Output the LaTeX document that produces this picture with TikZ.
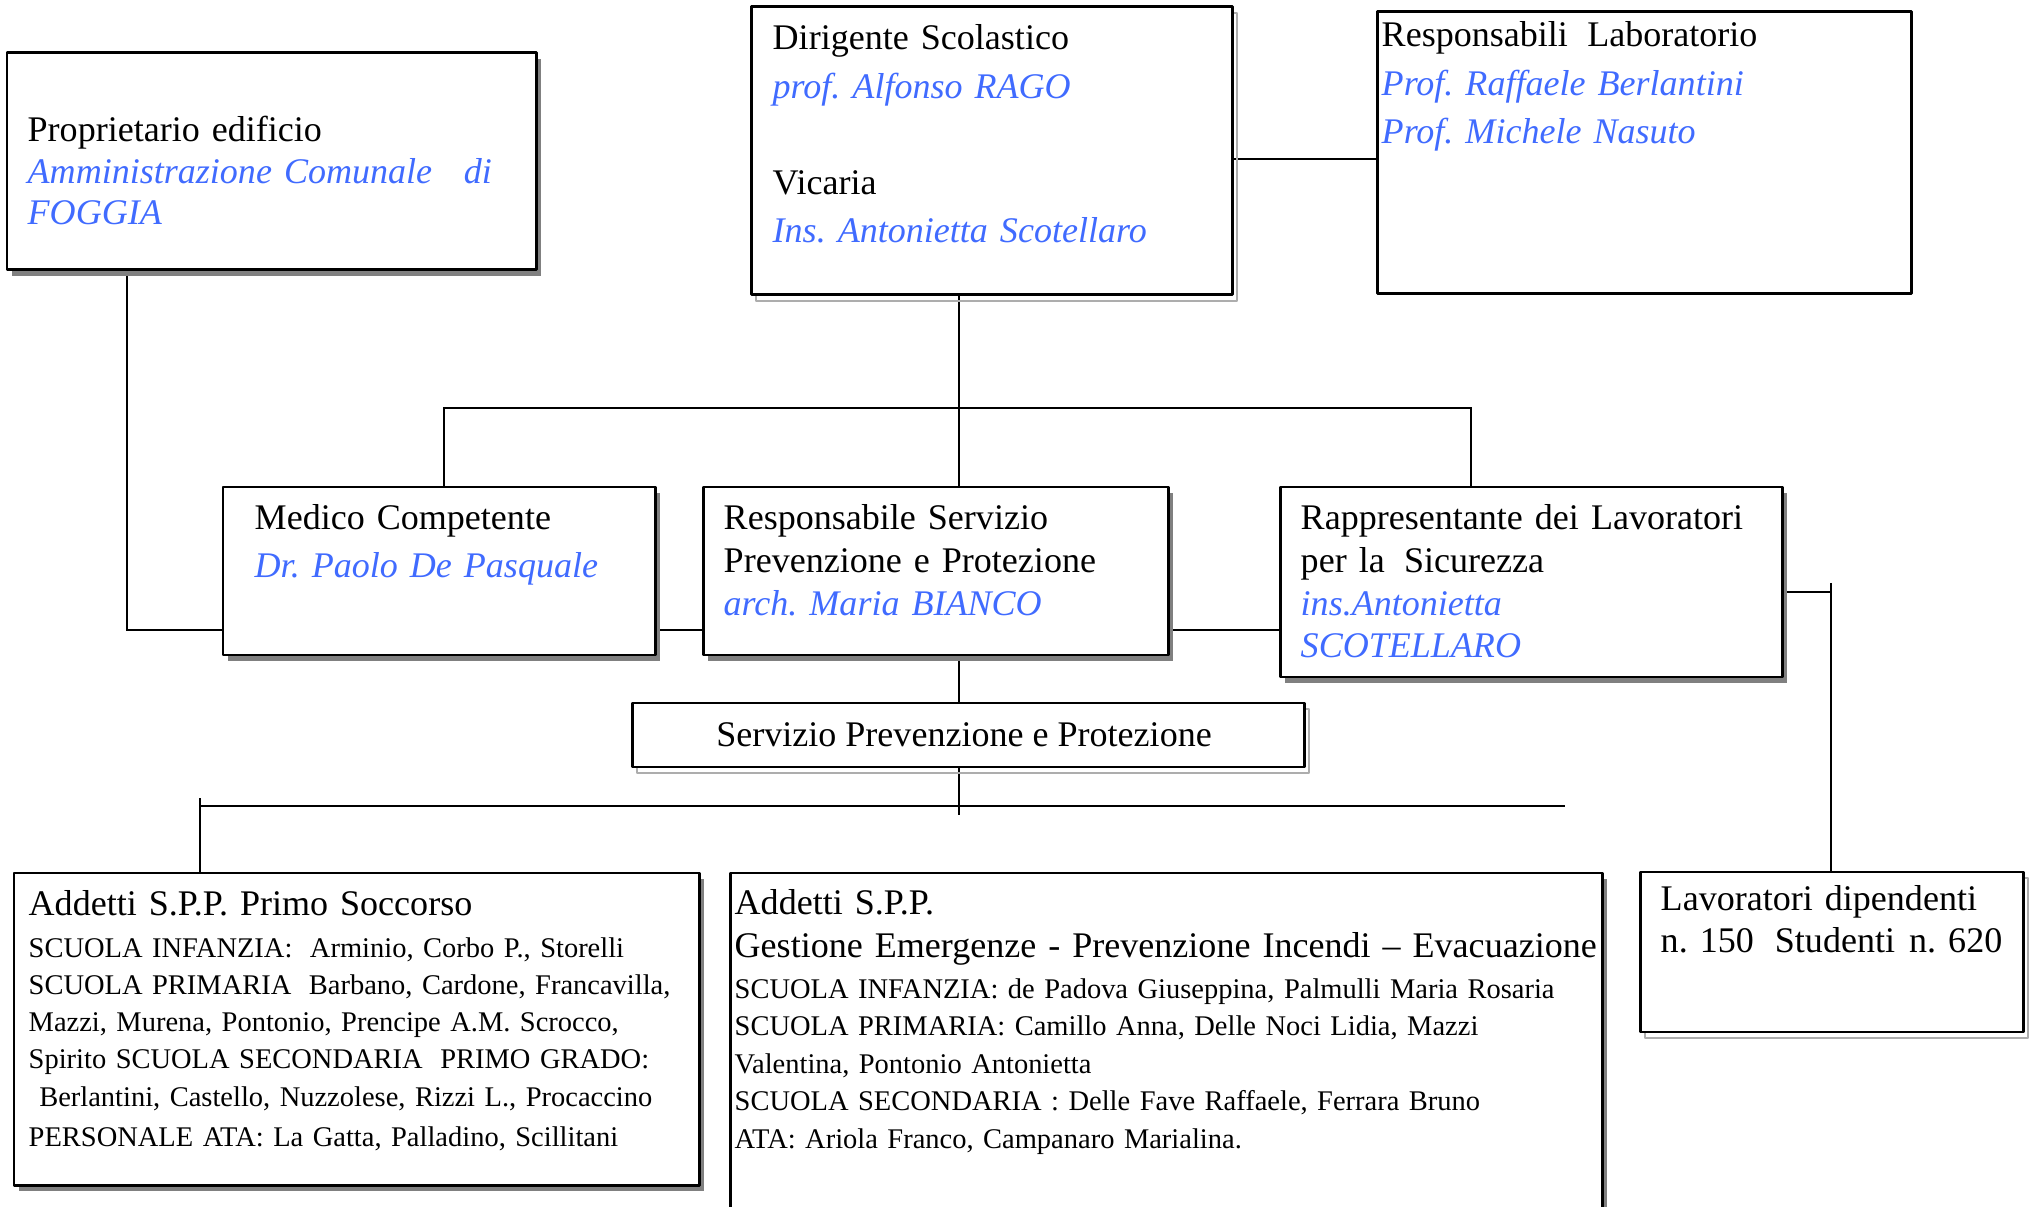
\documentclass[tikz,border=0pt]{standalone}
\usepackage{fontspec}
\setmainfont{Liberation Serif}
\usepackage{tikz}
\usetikzlibrary{fit,shadows,backgrounds}
\definecolor{zzttff}{rgb}{0.25,0.42,1}
\definecolor{sfsfsf}{rgb}{0.5,0.5,0.5}
\definecolor{bfbfbf}{rgb}{0.68,0.68,0.68}
\newcommand{\persona}[1]{{\color{zzttff}\itshape #1}}
\frenchspacing
\tikzset{
  casella/.style={rectangle,draw=black,line width=0.85pt,fill=white,inner sep=0pt},
  ombra/.style={drop shadow={shadow xshift=0.05cm,shadow yshift=-0.06cm,fill=sfsfsf,opacity=1}},
  ombrachiara/.style={drop shadow={shadow xshift=0.05cm,shadow yshift=-0.06cm,fill=none,draw=bfbfbf,line width=0.7pt,opacity=1}},
  testo/.style={anchor=base west,inner sep=0pt,align=left,text width=10cm,font=\fontsize{10.25}{#1}\selectfont},
  testo/.default=12pt,
  elenco/.style={anchor=base west,inner sep=0pt,align=left,text width=10cm,font=\fontsize{8.1}{#1}\selectfont},
  elenco/.default=10.6pt
}
\begin{document}
\begin{tikzpicture}[line cap=round,line join=round,x=0.01cm,y=-0.01cm]
\useasboundingbox (0,0) rectangle (2031,1207);
\clip (0,0) rectangle (2031,1207);
\node[casella,ombra,fit={(7,53) (536,270)}] (prop) {};
\node[testo=11.8pt] (propT) at (27,142) {Proprietario edificio\\ \persona{Amministrazione Comunale\hspace{9pt}di}\\ \persona{FOGGIA}};
\node[casella,ombrachiara,fit={(751,7) (1232,295)}] (dir) {};
\node[testo=13.66pt] (dirT) at (772,50) {Dirigente Scolastico\\ \persona{prof. Alfonso RAGO}\\[13.66pt] Vicaria\\ \persona{Ins. Antonietta Scotellaro}};
\node[casella,fit={(1377,12) (1911,294)}] (lab) {};
\node[testo=13.66pt] (labT) at (1381,47) {Responsabili\hspace{5.5pt}Laboratorio\\ \persona{Prof. Raffaele Berlantini}\\ \persona{Prof. Michele Nasuto}};
\node[casella,ombra,fit={(223,487) (655,655)}] (med) {};
\node[testo=13.4pt] (medT) at (254,530) {Medico Competente\\ \persona{Dr. Paolo De Pasquale}};
\node[casella,ombra,fit={(703,487) (1168,655)}] (rspp) {};
\node[testo=12.1pt] (rsppT) at (723,530) {Responsabile Servizio\\ Prevenzione e Protezione\\ \persona{arch. Maria BIANCO}};
\node[casella,ombra,fit={(1280,487) (1782,677)}] (rls) {};
\node[testo=12.1pt] (rlsT) at (1300,530) {Rappresentante dei Lavoratori\\ per la\hspace{5.5pt}Sicurezza\\ \persona{ins.Antonietta}\\ \persona{SCOTELLARO}};
\node[casella,ombrachiara,fit={(632,703) (1304,767)}] (spp) {};
\node[anchor=base,inner sep=0pt,font=\fontsize{10.25}{12}\selectfont] (sppT) at (964,746) {Servizio Prevenzione e Protezione};
\node[casella,ombra,fit={(14,873) (699,1185)}] (ps) {};
\node[testo] (psT) at (28,915) {Addetti S.P.P. Primo Soccorso};
\node[elenco=10.6pt] (psE) at (28,957) {SCUOLA INFANZIA:\hspace{5pt}Arminio, Corbo P., Storelli\\ SCUOLA PRIMARIA\hspace{5pt}Barbano, Cardone, Francavilla,\\ Mazzi, Murena, Pontonio, Prencipe A.M. Scrocco,\\ Spirito SCUOLA SECONDARIA\hspace{5pt}PRIMO GRADO:\\ \hspace{3pt}Berlantini, Castello, Nuzzolese, Rizzi L., Procaccino\\[0.8pt] PERSONALE ATA: La Gatta, Palladino, Scillitani};
\node[casella,ombra,fit={(730,873) (1602,1215)}] (ge) {};
\node[testo=12.5pt] (geT) at (734,914) {Addetti S.P.P.\\ Gestione Emergenze - Prevenzione Incendi – Evacuazione};
\node[elenco=10.7pt] (geE) at (734,998) {SCUOLA INFANZIA: de Padova Giuseppina, Palmulli Maria Rosaria\\ SCUOLA PRIMARIA: Camillo Anna, Delle Noci Lidia, Mazzi\\ Valentina, Pontonio Antonietta\\ SCUOLA SECONDARIA : Delle Fave Raffaele, Ferrara Bruno\\ ATA: Ariola Franco, Campanaro Marialina.};
\node[casella,ombrachiara,fit={(1640,872) (2023,1032)}] (lav) {};
\node[testo=12pt] (lavT) at (1660,910) {Lavoratori dipendenti\\ n. 150\hspace{6pt}Studenti\hspace{4pt}n. 620};
\begin{scope}[on background layer,line width=0.6pt]
\coordinate (g1) at (127,630);
\coordinate (asse) at (959,408);
\coordinate (b1) at (444,408);
\coordinate (b2) at (1471,408);
\coordinate (v0) at (1831,583);
\coordinate (v1) at (1831,592);
\coordinate (c2) at (959,815);
\coordinate (b3) at (200,806);
\coordinate (b4) at (1565,806);
\coordinate (b5) at (200,798);
\draw (g1 |- prop.south) -- (g1) -- (med.west |- g1);
\draw (dir.east |- 0,159) -- (lab.west |- 0,159);
\draw (asse |- dir.south) -- (asse |- rspp.north);
\draw (med.north -| b1) -- (b1) -- (b2) -- (rls.north -| b2);
\draw (med.east |- g1) -- (rspp.west |- g1);
\draw (rspp.east |- g1) -- (rls.west |- g1);
\draw (rls.east |- v1) -- (v1);
\draw (v0) -- (lav.north -| v0);
\draw (asse |- rspp.south) -- (asse |- spp.north);
\draw (asse |- spp.south) -- (c2);
\draw (b3) -- (b4);
\draw (b5) -- (ps.north -| b5);
\end{scope}
\end{tikzpicture}
\end{document}
